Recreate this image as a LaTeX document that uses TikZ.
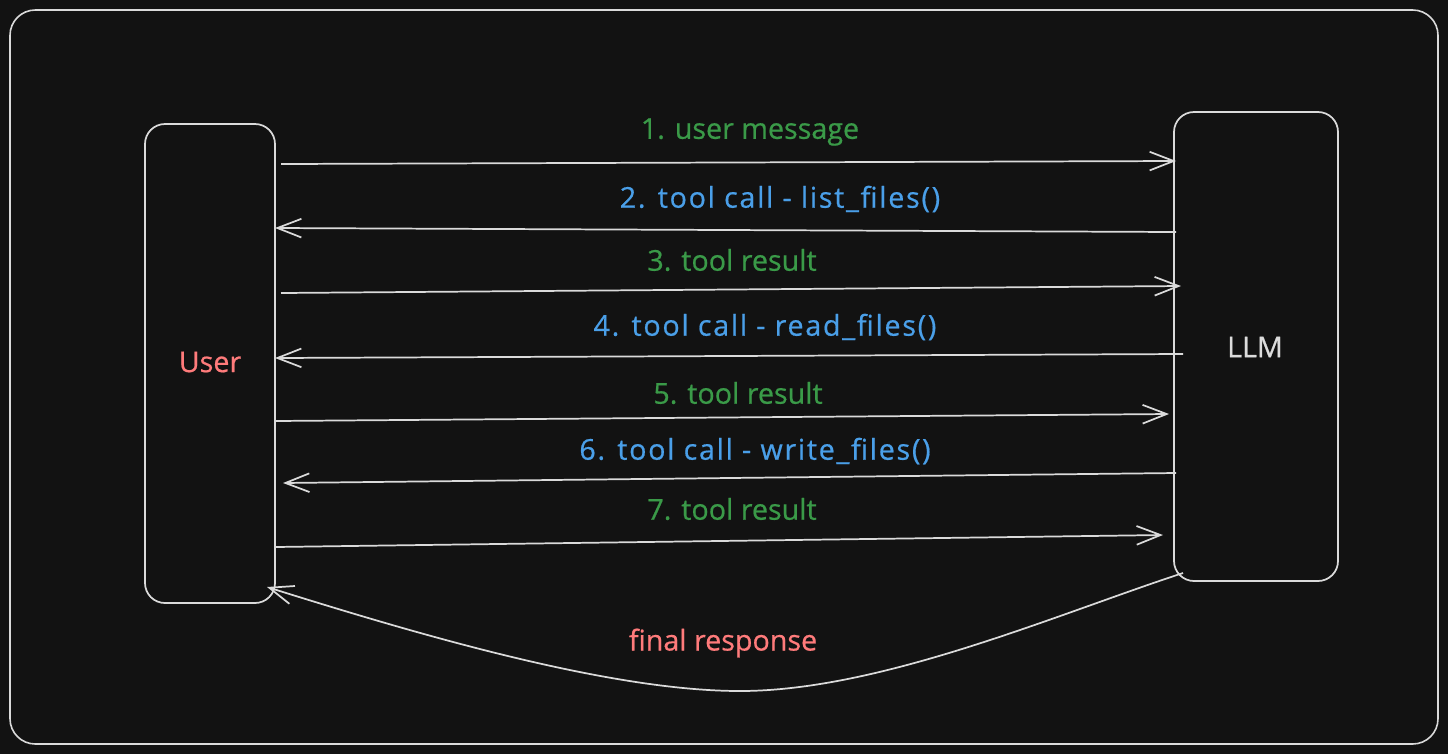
\documentclass[tikz,border=0pt]{standalone}
\usepackage{fontspec}
\setmainfont{Open Sans}[FakeBold=0.6]
\newfontfamily\widefont{Open Sans}[FakeBold=0.6, LetterSpace=6]
\usetikzlibrary{arrows.meta}
\definecolor{bg}{HTML}{121212}
\definecolor{strokec}{HTML}{DADADA}
\definecolor{tgreen}{HTML}{3A9A48}
\definecolor{tblue}{HTML}{4A9FE8}
\definecolor{tred}{HTML}{FF7B7B}
\definecolor{tgray}{HTML}{DCDCDC}
\tikzset{
  box/.style={draw=strokec, line width=1.3pt, rounded corners=15pt, fill=bg},
  msg/.style={draw=strokec, line width=1.3pt, -{Straight Barb[length=18pt,width=14pt,line width=1.3pt]}},
  lbl/.style={font=\fontsize{21.5}{24}\selectfont, inner sep=0pt},
  wlbl/.style={font=\widefont\fontsize{21.5}{24}\selectfont, inner sep=0pt},
}
\begin{document}
\begin{tikzpicture}[x=0.75pt,y=-0.75pt]
\fill[bg] (0,0) rectangle (1448,754);
\useasboundingbox (0,0) rectangle (1448,754);
\draw[draw=strokec, line width=1.2pt, rounded corners=19pt] (10,10) rectangle (1438,744);
% boxes
\node[box, minimum width=130*0.75pt, minimum height=479*0.75pt] (user) at (210,363.5) {};
\node[box, minimum width=164*0.75pt, minimum height=469*0.75pt] (llm) at (1256,346.5) {};
\node[lbl, text=tred] (userlbl) at (210,362) {User};
\node[lbl, text=tgray] (llmlbl) at (1255,347) {LLM};
% endpoints
\coordinate (a1s) at (281,164); \coordinate (a1e) at (1176,161);
\coordinate (a2s) at (1176,232); \coordinate (a2e) at (275,228);
\coordinate (a3s) at (281,293); \coordinate (a3e) at (1181,286);
\coordinate (a4s) at (1183,354); \coordinate (a4e) at (275,358);
\coordinate (a5s) at (275,421); \coordinate (a5e) at (1169,414);
\coordinate (a6s) at (1176,473); \coordinate (a6e) at (283,483);
\coordinate (a7s) at (275,547); \coordinate (a7e) at (1163,535);
\coordinate (fs) at (1183,573); \coordinate (fm) at (740,691); \coordinate (fe) at (267,587);
\draw[msg] (a1s) -- (a1e);
\draw[msg] (a2s) -- (a2e);
\draw[msg] (a3s) -- (a3e);
\draw[msg] (a4s) -- (a4e);
\draw[msg] (a5s) -- (a5e);
\draw[msg] (a6s) -- (a6e);
\draw[msg] (a7s) -- (a7e);
\draw[msg] (fs) .. controls (1055,615) and (880,691) .. (fm)
  .. controls (610,691) and (420,635) .. (fe);
% labels
\node[lbl, text=tgreen] (l1) at (750,132) {1. user message};
\node[wlbl, text=tblue] (l2) at (780,199) {2. tool call - list\_files()};
\node[lbl, text=tgreen] (l3) at (732,260) {3. tool result};
\node[wlbl, text=tblue] (l4) at (765,327) {4. tool call - read\_files()};
\node[lbl, text=tgreen] (l5) at (738,393) {5. tool result};
\node[wlbl, text=tblue] (l6) at (755,451) {6. tool call - write\_files()};
\node[lbl, text=tgreen] (l7) at (732,509) {7. tool result};
\node[lbl, text=tred] (lf) at (723,643) {final response};
\end{tikzpicture}
\end{document}
